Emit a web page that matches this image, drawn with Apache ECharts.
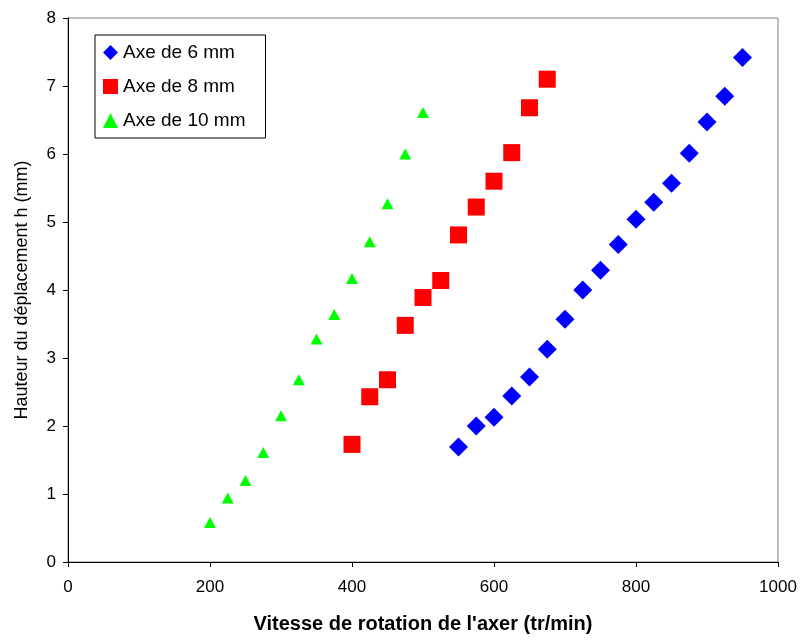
<!DOCTYPE html>
<html><head><meta charset="utf-8">
<script src="https://cdn.jsdelivr.net/npm/echarts@6/dist/echarts.min.js"></script>
<style>html,body{margin:0;padding:0;background:#fff}#c{width:803px;height:641px}</style>
</head><body><div id="c"></div>
<script>
const x6 = [550,575,600,625,650,675,700,725,750,775,800,825,850,875,900,925,950];
const y6 = [1.69,2.00,2.13,2.44,2.72,3.13,3.57,4.00,4.29,4.67,5.04,5.29,5.57,6.01,6.47,6.85,7.42];
const x8 = [400,425,450,475,500,525,550,575,600,625,650,675];
const y8 = [1.73,2.43,2.68,3.48,3.89,4.14,4.81,5.22,5.60,6.02,6.68,7.10];
const x10 = [200,225,250,275,300,325,350,375,400,425,450,475,500];
const y10 = [0.58,0.94,1.20,1.61,2.15,2.68,3.28,3.64,4.17,4.71,5.27,6.00,6.61];
const names = ['Axe de 6 mm','Axe de 8 mm','Axe de 10 mm'];
const xTitle = "Vitesse de rotation de l'axer (tr/min)";
const yTitle = 'Hauteur du déplacement h (mm)';

const zip = (a,b) => a.map((v,i)=>[v,b[i]]);
const FONT = '"Liberation Sans", Arial, sans-serif';
const chart = echarts.init(document.getElementById('c'), null, {renderer:'canvas'});
chart.setOption({
  animation:false,
  backgroundColor:'#fff',
  grid:{left:68, right:25, top:18, bottom:79, show:true, borderColor:'#808080', borderWidth:1},
  legend:{
    orient:'vertical', left:95, top:35,
    padding:[8,20,8,8], itemGap:15, itemWidth:15, itemHeight:15,
    borderColor:'#000', borderWidth:1, backgroundColor:'#fff',
    textStyle:{fontFamily:FONT, fontSize:19, color:'#000'},
    data:[
      {name:names[0], icon:'diamond'},
      {name:names[1], icon:'rect'},
      {name:names[2], icon:'triangle'}
    ]
  },
  xAxis:{
    type:'value', min:0, max:1000, interval:200,
    name:xTitle, nameLocation:'middle', nameGap:52,
    nameTextStyle:{fontFamily:FONT, fontSize:20, fontWeight:'bold', color:'#000'},
    axisLine:{show:true, onZero:false, lineStyle:{color:'#000', width:1}},
    axisTick:{show:true, length:5, inside:false, lineStyle:{color:'#000'}},
    axisLabel:{fontFamily:FONT, fontSize:17, color:'#000', margin:17, formatter:v=>String(v)},
    splitLine:{show:false}
  },
  yAxis:{
    type:'value', min:0, max:8, interval:1,
    name:yTitle, nameLocation:'middle', nameGap:37, nameRotate:90,
    nameTextStyle:{fontFamily:FONT, fontSize:18, color:'#000'},
    axisLine:{show:true, onZero:false, lineStyle:{color:'#000', width:1}},
    axisTick:{show:true, length:5, lineStyle:{color:'#000'}},
    axisLabel:{fontFamily:FONT, fontSize:17, color:'#000', margin:12},
    splitLine:{show:false}
  },
  series:[
    {name:names[0], type:'scatter', symbol:'diamond', symbolSize:[19,19], itemStyle:{color:'#0000FF', opacity:1}, data:zip(x6,y6)},
    {name:names[1], type:'scatter', symbol:'rect', symbolSize:[17,17], itemStyle:{color:'#FF0000', opacity:1}, data:zip(x8,y8)},
    {name:names[2], type:'scatter', symbol:'triangle', symbolSize:[12,11], itemStyle:{color:'#00FF00', opacity:1}, data:zip(x10,y10)}
  ]
});
</script></body></html>
